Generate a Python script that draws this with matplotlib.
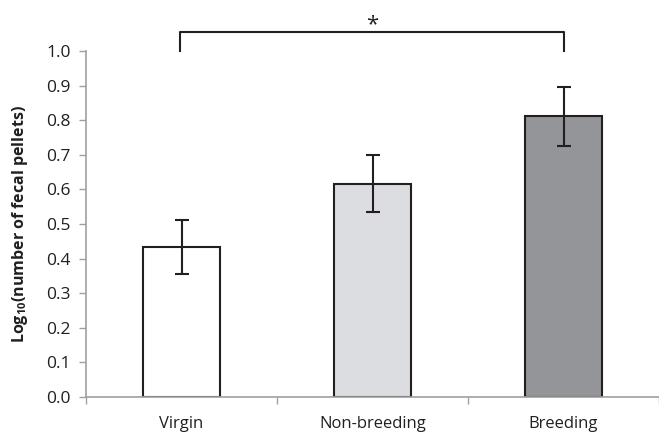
import numpy as np
import matplotlib
matplotlib.use('Agg')
import matplotlib.pyplot as plt

plt.rcParams['font.family'] = ['Open Sans', 'DejaVu Sans']
plt.rcParams['mathtext.fontset'] = 'custom'
plt.rcParams['mathtext.rm'] = 'Open Sans'
plt.rcParams['mathtext.bf'] = 'Open Sans:bold'

# data
groups = ['Virgin', 'Non-breeding', 'Breeding']
means = [0.433, 0.616, 0.811]
errors = [0.078, 0.082, 0.085]
colors = ['#ffffff', '#dcdde0', '#939598']
y_ticks = np.arange(0, 1.01, 0.1)

fig = plt.figure(figsize=(6.59, 4.33), dpi=100)
ax = fig.add_axes([86 / 659, 36 / 433, 1 - 86 / 659, 346 / 433])

x = np.arange(len(groups))
ax.bar(x, means, width=0.40, color=colors, edgecolor='#231f20', linewidth=1.5, zorder=2)
ax.errorbar(x, means, yerr=errors, fmt='none', ecolor='#231f20', elinewidth=1.5,
            capsize=5, capthick=1.5, zorder=3)

ax.set_xlim(-0.5, 2.47)
ax.set_ylim(0, 1.0)
ax.set_yticks(y_ticks)
ax.set_yticklabels(['%.1f' % v for v in y_ticks])
ax.set_xticks(x)
ax.set_xticklabels(groups)
ax.set_xticks([-0.5, 0.5, 1.5, 2.5], minor=True)
ax.tick_params(axis='x', which='major', length=0, pad=14, labelsize=12, labelcolor='#231f20')
ax.tick_params(axis='x', which='minor', length=5, color='#a0a0a0', width=1)
ax.tick_params(axis='y', length=5, color='#a0a0a0', width=1, pad=6, labelsize=12.5,
               labelcolor='#231f20')

for s in ['top', 'right']:
    ax.spines[s].set_visible(False)
for s in ['left', 'bottom']:
    ax.spines[s].set_color('#a0a0a0')
    ax.spines[s].set_linewidth(1.2)

ax.set_ylabel(r'Log$_{\mathbf{10}}$(number of fecal pellets)', fontsize=11.5,
              fontweight='bold', color='#231f20', labelpad=12)

# significance bracket between Virgin and Breeding
ax.plot([-0.01, -0.01, 2.0, 2.0], [1.0, 1.055, 1.055, 1.0], color='#231f20',
        lw=1.5, clip_on=False)
ax.text(1.0, 1.075, '*', ha='center', va='center', fontsize=16, color='#231f20')

fig.savefig('out.png', dpi=100)
